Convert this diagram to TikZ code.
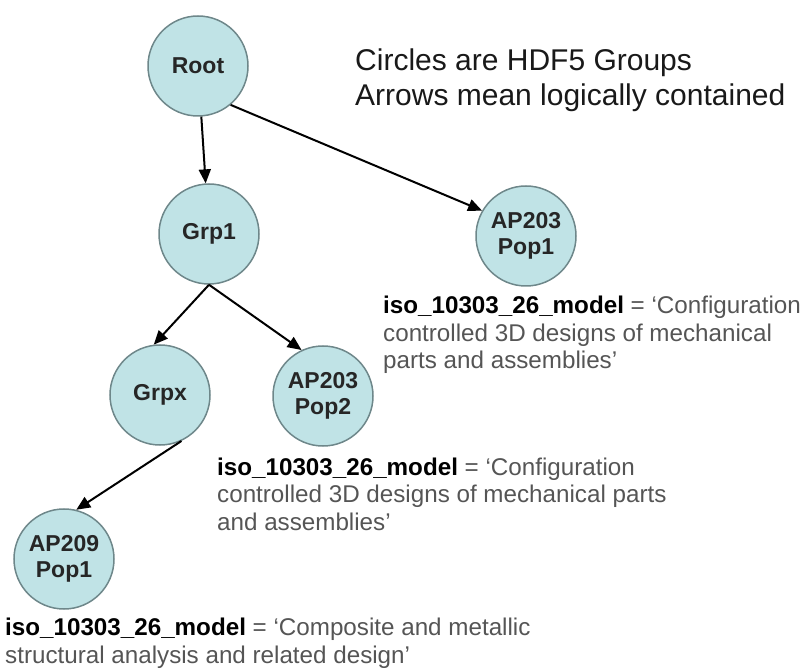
\documentclass[tikz,border=0pt]{standalone}
\usepackage{fontspec}
\setmainfont{Liberation Sans}
\usetikzlibrary{arrows.meta}
\definecolor{grpfill}{RGB}{192,227,230}
\definecolor{grpline}{RGB}{110,135,138}
\definecolor{anntext}{RGB}{85,85,85}
\tikzset{
  grp/.style={circle, draw=grpline, line width=1.5pt, fill=grpfill, minimum size=100pt, inner sep=0pt,
    align=center, font=\fontsize{23}{26}\selectfont\bfseries, text=black!85},
  contains/.style={line width=2pt, -{Triangle[length=14pt,width=12pt]}},
  ann/.style={anchor=base west, align=left, inner sep=0pt, text=anntext,
    font=\fontsize{24.2}{27.5}\selectfont},
  legend/.style={anchor=base west, inner sep=0pt, text=black!90, font=\fontsize{30}{35}\selectfont}
}
\begin{document}
\begin{tikzpicture}[x=1pt,y=-1pt]
\useasboundingbox (0,0) rectangle (807,671);
\node[grp] (root) at (198,66) {Root};
\node[grp] (grp1) at (209,234) {Grp1};
\node[grp] (pop1) at (526,236) {AP203\\Pop1};
\node[grp] (grpx) at (160,395) {Grpx};
\node[grp] (pop2) at (323,396) {AP203\\Pop2};
\node[grp] (ap209) at (64,559) {AP209\\Pop1};

\draw[contains] (root) -- (grp1);
\draw[contains] (root.-50) -- (pop1.150);
\draw[contains] (grp1.south) -- (grpx.97);
\draw[contains] (grp1.south) -- (pop2.115);
\draw[contains] (grpx.-65) -- (ap209.76);

\node[legend] (leg1) at (355,71) {Circles are HDF5 Groups};
\node[legend] (leg2) at (355,106) {Arrows mean logically contained};

\node[ann] (ann1) at (383,369) {\textcolor{black}{\bfseries iso\_10303\_26\_model} = `Configuration\\controlled 3D designs of mechanical\\parts and assemblies'};
\node[ann] (ann2) at (217,530) {\textcolor{black}{\bfseries iso\_10303\_26\_model} = `Configuration\\controlled 3D designs of mechanical parts\\and assemblies'};
\node[ann] (ann3) at (5,663) {\textcolor{black}{\bfseries iso\_10303\_26\_model} = `Composite and metallic\\structural analysis and related design'};
\end{tikzpicture}
\end{document}
